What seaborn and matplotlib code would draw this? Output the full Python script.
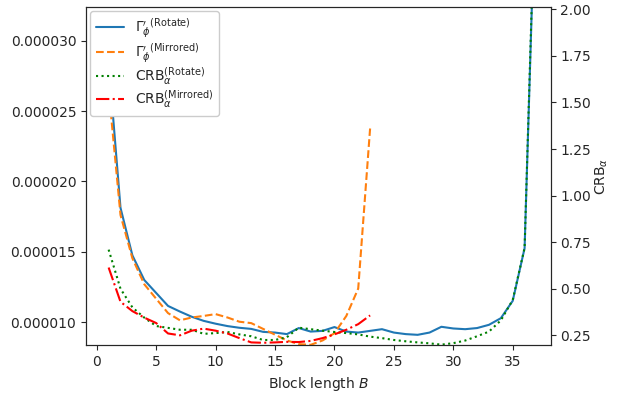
import numpy as np
import pandas as pd
import matplotlib
matplotlib.use("Agg")
import matplotlib.pyplot as plt
import seaborn as sns
from matplotlib.ticker import FormatStrFormatter

# Data
block_rot = list(range(1, 38))
gamma_rot = [28.47, 18.13, 14.76, 13.01, 12.09, 11.17, 10.77, 10.40, 10.11, 9.91,
             9.74, 9.62, 9.54, 9.33, 9.28, 9.17, 9.60, 9.35, 9.40, 9.67,
             9.35, 9.28, 9.40, 9.52, 9.28, 9.17, 9.12, 9.28, 9.69, 9.57,
             9.52, 9.60, 9.83, 10.30, 11.53, 15.27, 43.4]  # x1e-6
block_mir = list(range(1, 24))
gamma_mir = [26.52, 17.62, 14.55, 12.71, 11.68, 10.66, 10.15, 10.35, 10.46, 10.59,
             10.35, 10.05, 9.95, 9.54, 9.13, 8.72, 8.46, 8.41, 8.72, 9.23,
             10.46, 12.40, 23.76]  # x1e-6
crb_rot = [0.71, 0.50, 0.40, 0.345, 0.30, 0.29, 0.28, 0.28, 0.258, 0.262,
           0.268, 0.255, 0.245, 0.225, 0.225, 0.24, 0.291, 0.283, 0.275, 0.268,
           0.262, 0.255, 0.243, 0.235, 0.225, 0.218, 0.212, 0.207, 0.200, 0.208,
           0.222, 0.245, 0.27, 0.33, 0.44, 0.72, 2.9]
crb_mir = [0.614, 0.43, 0.38, 0.345, 0.316, 0.26, 0.25, 0.275, 0.286, 0.275,
           0.26, 0.235, 0.212, 0.21, 0.212, 0.215, 0.214, 0.22, 0.235, 0.255,
           0.28, 0.31, 0.357]

sns.set_style("ticks")
plt.rcParams['font.family'] = ['DejaVu Sans']
plt.rcParams['mathtext.fontset'] = 'dejavusans'

fig = plt.figure(figsize=(6.28, 3.97), dpi=100)
ax = fig.add_axes([0.137, 0.13, 0.740, 0.853])
ax2 = ax.twinx()

df_gr = pd.DataFrame({"B": block_rot, "v": np.array(gamma_rot) * 1e-6})
df_gm = pd.DataFrame({"B": block_mir, "v": np.array(gamma_mir) * 1e-6})
df_cr = pd.DataFrame({"B": block_rot, "v": crb_rot})
df_cm = pd.DataFrame({"B": block_mir, "v": crb_mir})

sns.lineplot(data=df_gr, x="B", y="v", ax=ax, color="#1f77b4", lw=1.5,
             label=r"$\Gamma_\phi'^{(\rm Rotate)}$", legend=False)
sns.lineplot(data=df_gm, x="B", y="v", ax=ax, color="#ff7f0e", lw=1.5,
             linestyle="--", label=r"$\Gamma_\phi'^{(\rm Mirrored)}$", legend=False)
sns.lineplot(data=df_cr, x="B", y="v", ax=ax2, color="green", lw=1.5,
             linestyle=":", label=r"CRB$_\alpha^{(\rm Rotate)}$", legend=False)
sns.lineplot(data=df_cm, x="B", y="v", ax=ax2, color="red", lw=1.5,
             linestyle="-.", label=r"CRB$_\alpha^{(\rm Mirrored)}$", legend=False)

ax.set_xlim(-0.9, 38.2)
ax.set_ylim(8.37e-6, 32.4e-6)
ax2.set_ylim(0.196, 2.014)
ax.set_xticks([0, 5, 10, 15, 20, 25, 30, 35])
ax.set_yticks([10e-6, 15e-6, 20e-6, 25e-6, 30e-6])
ax.yaxis.set_major_formatter(FormatStrFormatter('%.6f'))
ax2.set_yticks([0.25, 0.5, 0.75, 1.0, 1.25, 1.5, 1.75, 2.0])
ax2.yaxis.set_major_formatter(FormatStrFormatter('%.2f'))
ax.set_xlabel(r"Block length $B$")
ax.set_ylabel("")
ax2.set_ylabel(r"CRB$_\alpha$", labelpad=2)

h1, l1 = ax.get_legend_handles_labels()
h2, l2 = ax2.get_legend_handles_labels()
ax2.legend(h1 + h2, l1 + l2, loc="upper left", fontsize=10, framealpha=1.0,
           labelspacing=0.05, borderaxespad=0.3)

for a in (ax, ax2):
    for s in a.spines.values():
        s.set_visible(True)

fig.savefig("out.png", dpi=100)
